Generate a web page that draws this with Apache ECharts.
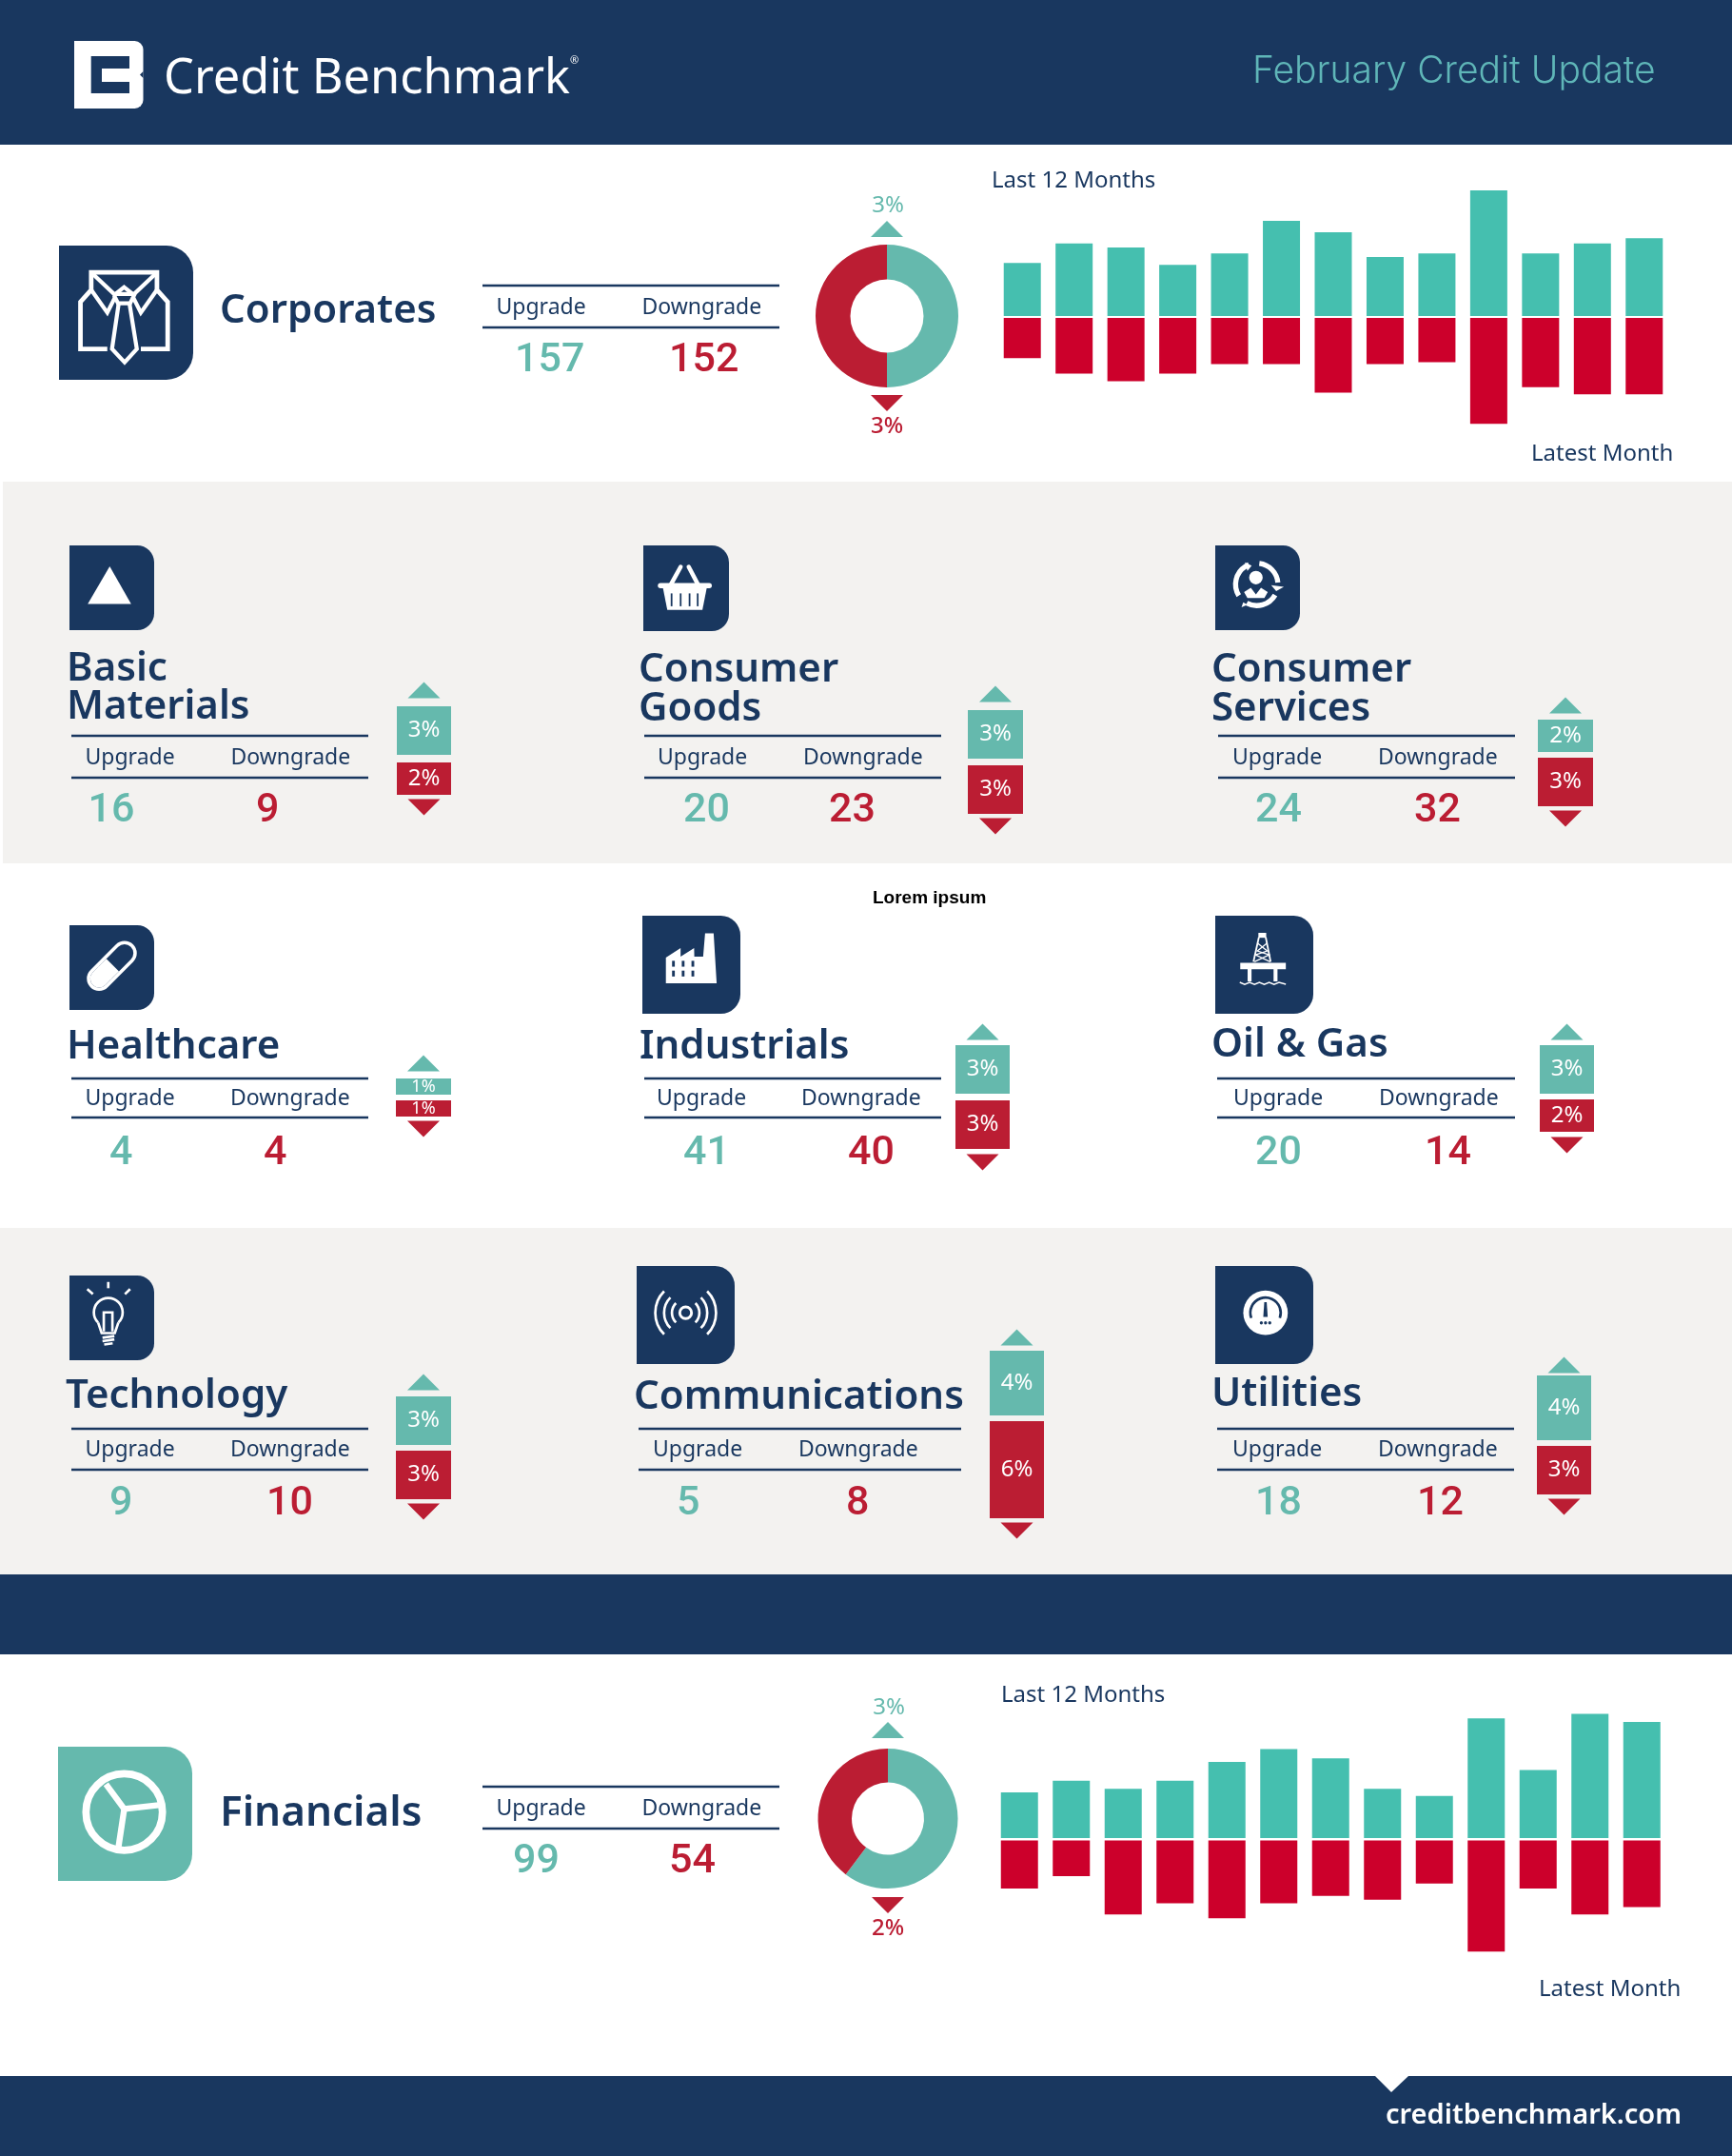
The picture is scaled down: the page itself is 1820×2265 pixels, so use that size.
<!DOCTYPE html>
<html>
<head>
<meta charset="utf-8">
<title>Credit Benchmark - February Credit Update</title>
<style>
html,body{margin:0;padding:0;background:#fff;}
#main{width:1820px;height:2265px;}
</style>
<script src="https://cdn.jsdelivr.net/npm/echarts@6/dist/echarts.min.js"></script>
</head>
<body>
<div id="main"></div>
<script>
// data
var months = ['M-12','M-11','M-10','M-9','M-8','M-7','M-6','M-5','M-4','M-3','M-2','M-1','Latest'];
var corporatesUp = [107,146,138,103,126,192,169,119,126,253,126,146,157];
var corporatesDown = [80,111,126,111,92,92,149,92,88,211,138,152,152];
var financialsUp = [39,49,42,49,65,76,68,42,36,102,58,106,99];
var financialsDown = [39,29,60,51,63,51,45,48,35,90,39,60,54];
var corporatesShare = [50,50];
var financialsShare = [60.3,39.7];
var corporatesPct = [3,3];
var financialsPct = [3,2];

var sectorNames = ['Basic\nMaterials','Consumer\nGoods','Consumer\nServices','Healthcare','Industrials','Oil & Gas','Technology','Communications','Utilities'];
var sectorUp = [16,20,24,4,41,20,9,5,18];
var sectorDown = [9,23,32,4,40,14,10,8,12];
var sectorUpPct = [3,3,2,1,3,3,3,4,4];
var sectorDownPct = [2,3,3,1,3,2,3,6,3];
var sectorIcons = ['triangle','basket','services','pill','factory','rig','bulb','radio','gauge'];

// where each sector panel sits
var panelLayout = [
    {icon:[73,573,89],   title:[70,[715,755]],  rule:[75,387,773,817],    label:[89.5,242.5,803],val:[92.5,269,863],  bar:[417,57,793,801],    tri:[-17,13]},
    {icon:[676,573,90],  title:[671,[716,757]], rule:[677,989,773,817],   label:[691,844,803],   val:[718,871,863],   bar:[1017,58,797,804],   tri:[-17,13]},
    {icon:[1277,573,89], title:[1273,[716,757]],rule:[1280,1592,773,817], label:[1295,1448,803], val:[1319,1486,863], bar:[1616,58,790,796],   tri:[-15,13]},
    {icon:[73,972,89],   title:[70,[1112]],     rule:[75,387,1133,1174],  label:[89.5,242,1161], val:[115,277,1223],  bar:[416,58,1150,1156],  tri:[-16,13]},
    {icon:[675,962,103], title:[672,[1112]],    rule:[677,989,1133,1174], label:[690,842,1161],  val:[718,891,1223],  bar:[1004,57,1149,1156], tri:[-14,14]},
    {icon:[1277,962,103],title:[1273,[1110]],   rule:[1279,1592,1133,1174],label:[1296,1449,1161],val:[1319,1497,1223],bar:[1618,57,1149,1155], tri:[-14,14]},
    {icon:[73,1340,89],  title:[69,[1479]],     rule:[75,387,1501,1544],  label:[89.5,242,1530], val:[115,280,1591],  bar:[416,58,1518,1524],  tri:[-15,13]},
    {icon:[669,1330,103],title:[666,[1480]],    rule:[671,1010,1501,1544],label:[686,839,1530],  val:[711,889,1591],  bar:[1040,57,1487,1493], tri:[-14,13]},
    {icon:[1277,1330,103],title:[1273,[1477]],  rule:[1279,1591,1501,1544],label:[1295,1448,1530],val:[1319,1489,1591],bar:[1615,57,1513,1519], tri:[-11,13]}
];

var NAVY = '#19375F', TEAL = '#65B9AD', RED = '#BB1D33', BAR_TEAL = '#45BFAF', BAR_RED = '#CC002B', GREY = '#F3F2F0';
var SANS = "'Noto Sans'", NUM = "Roboto", THIN = "Inter", ARIAL = "'Liberation Sans'";
var RISE = {};
RISE[SANS] = 0.29; RISE[NUM] = 0.24; RISE[THIN] = 0.30; RISE[ARIAL] = 0.24;

var graphics = [], grids = [], xAxes = [], yAxes = [], series = [];

function rect(x, y, w, h, fill, r) {
    return {type:'rect', shape:{x:x,y:y,width:w,height:h,r:r||0}, style:{fill:fill}};
}
function poly(pts, fill) {
    return {type:'polygon', shape:{points:pts}, style:{fill:fill}};
}
function pline(pts, color, lw, cap) {
    return {type:'polyline', shape:{points:pts}, style:{stroke:color,lineWidth:lw,fill:'none',lineCap:cap||'butt',lineJoin:'miter'}};
}
function circ(x, y, r, fill, stroke, lw) {
    return {type:'circle', shape:{cx:x,cy:y,r:r}, style:{fill:fill||'none',stroke:stroke||'none',lineWidth:lw||0}};
}
function arc(x, y, r, a0, a1, color, lw) {
    return {type:'arc', shape:{cx:x,cy:y,r:r,startAngle:a0*Math.PI/180,endAngle:a1*Math.PI/180,clockwise:true},
        style:{stroke:color,lineWidth:lw,fill:'none',lineCap:'butt'}};
}
// base is the text baseline in page pixels
function txt(x, base, s, size, family, weight, fill, align) {
    return {type:'text', style:{x:x, y:base-size*RISE[family], text:s, fill:fill,
        font:weight+' '+size+'px '+family, align:align||'left', verticalAlign:'middle'}};
}

// icon glyphs are drawn in a 100x100 box
function iconChildren(name, bg) {
    var w = '#fff';
    if (name === 'shirt') {
        return [
            pline([[36,77],[16,77],[16,42],[24,33],[24,20],[73,20],[73,33],[81,42],[81,77],[61,77]], w, 3.4),
            pline([[24,20],[41,36],[56,36],[73,20]], w, 3),
            pline([[24,33],[36,50],[42,38]], w, 3),
            pline([[73,33],[61,50],[55,38]], w, 3),
            pline([[41,37],[48.5,31],[56,37],[53,43],[44,43],[41,37]], w, 3),
            pline([[44.5,43],[39.5,77],[48.9,87],[58,77],[52.5,43]], w, 3)
        ];
    }
    if (name === 'triangle') {
        return [poly([[47.5,24.7],[21.6,69],[72.8,69]], w)];
    }
    if (name === 'basket') {
        return [
            pline([[43.6,25],[32,46]], w, 5, 'round'),
            pline([[53,25],[64,46]], w, 5, 'round'),
            pline([[20,47],[77,47]], w, 6, 'round'),
            poly([[23,50],[74,50],[69,75.4],[28,75.4]], w),
            pline([[33,56],[33,71]], bg, 2),
            pline([[43.6,56],[43.6,71]], bg, 2),
            pline([[54,56],[54,71]], bg, 2),
            pline([[63.5,56],[63.5,71]], bg, 2)
        ];
    }
    if (name === 'services') {
        return [
            arc(49,46,25,-83,-5,w,6),
            poly([[66,47],[81,49],[72,54]], w),
            arc(49,46,25,30,118,w,6),
            poly([[33,67],[31,73],[38,70]], w),
            arc(49,46,25,148,248,w,6),
            poly([[35,20],[43,24],[38,30]], w),
            circ(48,38,8,w),
            poly([[34,55],[42,50],[48,58],[54,50],[62,55],[58,62],[38,62]], w)
        ];
    }
    if (name === 'pill') {
        return [
            pline([[35,63],[65,33]], w, 29, 'round'),
            pline([[35,63],[65,33]], bg, 21, 'round'),
            pline([[35,63],[41,57]], w, 21, 'round'),
            pline([[41,57],[51,47]], w, 21, 'butt')
        ];
    }
    if (name === 'factory') {
        var wins = [poly([[24,69],[24,42.7],[39,33],[39,41.7],[52.8,33],[53,41.7],[62,41.7],[64,18],[72.7,18],[75.8,69]], w)];
        [31.7,41.6,51.5].forEach(function (x) {
            [46,56].forEach(function (y) { wins.push(rect(x-1.4,y,2.8,6,bg)); });
        });
        return wins;
    }
    if (name === 'rig') {
        return [
            rect(44,17.5,8,5,w),
            pline([[44.5,22],[39,47]], w, 1.8),
            pline([[51.5,22],[56.5,47]], w, 1.8),
            pline([[43,28],[53,36],[41,40],[56,47]], w, 1.3),
            pline([[53,28],[43,36],[55,40],[40,47]], w, 1.3),
            rect(25.5,48,46.5,6.5,w),
            rect(33,54,4,13,w),
            rect(59.5,54,4,13,w),
            pline([[25,68],[30,70],[35,68],[40,70],[45,68],[50,70],[55,68],[60,70],[65,68],[72,70]], w, 1.5)
        ];
    }
    if (name === 'bulb') {
        return [
            arc(45.8,43.5,17,135,405,w,3),
            pline([[33.8,55.5],[38,68],[53.5,68],[57.8,55.5]], w, 3),
            pline([[40.5,66],[40.5,43.5],[50.7,43.5],[50.7,66]], w, 3),
            pline([[39,73.5],[53,71.5]], w, 3),
            pline([[39,77.5],[53,75.5]], w, 3),
            pline([[41,81.5],[51,80]], w, 3),
            pline([[45.8,7.6],[45.8,15]], w, 3),
            pline([[21,16],[27.7,22]], w, 3),
            pline([[71.6,16],[65.5,22]], w, 3)
        ];
    }
    if (name === 'radio') {
        return [
            circ(50,47.7,6,'none',w,2.8),
            arc(50,47.7,14,-45,45,w,2.6), arc(50,47.7,14,135,225,w,2.6),
            arc(50,47.7,22,-45,45,w,2.6), arc(50,47.7,22,135,225,w,2.6),
            arc(50,47.7,31,-45,45,w,2.6), arc(50,47.7,31,135,225,w,2.6)
        ];
    }
    if (name === 'gauge') {
        return [
            circ(51.3,47.7,22.7,w),
            arc(51.3,47.7,15.5,160,380,bg,2.6),
            poly([[49,52],[53.5,52],[52.5,37],[50,37]], bg),
            circ(47,58,1.6,bg), circ(51.3,58,1.6,bg), circ(55.6,58,1.6,bg)
        ];
    }
    // pie outline for Financials
    return [
        circ(49.3,48.7,28.5,'none',w,5.5),
        pline([[35.7,28],[49.3,46.4],[75,43.5]], w, 4.5),
        pline([[49.3,46.4],[45,75]], w, 4.5)
    ];
}

function addIcon(name, x, y, size, bg) {
    var s = size/100;
    graphics.push({type:'group', x:x, y:y, scaleX:s, scaleY:s, children:
        [rect(0,0,100,100,bg,[0,20,20,0])].concat(iconChildren(name,bg))});
}

// one half of a diverging bar block, scaled by its own hidden value axis
function addHalf(left, width, top, height, max, cats, values, color, isDown, extra) {
    var idx = grids.length;
    grids.push({left:left, top:top, width:width, height:height, containLabel:false});
    xAxes.push({gridIndex:idx, type:'category', data:cats, show:false});
    yAxes.push({gridIndex:idx, type:'value', min:0, max:max, inverse:isDown, show:false});
    var s = {type:'bar', xAxisIndex:idx, yAxisIndex:idx, data:values, itemStyle:{color:color}, silent:true};
    for (var k in extra) { s[k] = extra[k]; }
    series.push(s);
}

function addCountTable(rule, label, val, up, down) {
    graphics.push(pline([[rule[0],rule[2]],[rule[1],rule[2]]], NAVY, 2.5));
    graphics.push(pline([[rule[0],rule[3]],[rule[1],rule[3]]], NAVY, 2.5));
    graphics.push(txt(label[0], label[2], 'Upgrade', 23, SANS, 400, NAVY));
    graphics.push(txt(label[1], label[2], 'Downgrade', 23, SANS, 400, NAVY));
    graphics.push(txt(val[0], val[2], String(up), 43, NUM, 500, TEAL));
    graphics.push(txt(val[1], val[2], String(down), 43, NUM, 500, RED));
}

function addDonut(cx, cy, r0, r1, share, upTri, downTri, pct, pctBase) {
    series.push({type:'pie', center:[cx,cy], radius:[r0,r1], startAngle:90, silent:true,
        label:{show:false}, labelLine:{show:false},
        data:[{name:'Upgrade',value:share[0],itemStyle:{color:TEAL}},{name:'Downgrade',value:share[1],itemStyle:{color:RED}}]});
    graphics.push(poly([[cx,upTri],[cx-17,upTri+17],[cx+17,upTri+17]], TEAL));
    graphics.push(poly([[cx-17,downTri],[cx+17,downTri],[cx,downTri+17]], RED));
    graphics.push(txt(cx+1, pctBase[0], pct[0]+'%', 24, SANS, 400, TEAL, 'center'));
    graphics.push(txt(cx, pctBase[1], pct[1]+'%', 24, SANS, 500, RED, 'center'));
}

// background bands
graphics.push(rect(0,0,1820,152,NAVY));
graphics.push(rect(3,506,1817,401,GREY));
graphics.push(rect(0,1290,1820,364,GREY));
graphics.push(rect(0,1654,1820,84,NAVY));
graphics.push(rect(0,2181,1820,84,NAVY));
graphics.push(poly([[1445,2181],[1480,2181],[1462,2198]], '#fff'));

// header
graphics.push({type:'group', x:78, y:43, children:[
    rect(0,0,72.5,71,'#fff',[0,9,9,0]),
    poly([[17.7,16],[58,16],[58,29],[29,29],[29,43],[58,43],[58,55],[17.7,55]], NAVY),
    poly([[72.5,32],[69,35.5],[72.5,39]], NAVY)
]});
graphics.push(txt(172, 98, 'Credit Benchmark', 50.5, SANS, 400, '#fff'));
graphics.push(txt(599, 67, '®', 11, SANS, 400, '#fff'));
graphics.push(txt(1316, 87, 'February Credit Update', 39, THIN, 300, '#5FB6B8'));
graphics.push(txt(1456, 2231, 'creditbenchmark.com', 29, SANS, 600, '#fff'));
graphics.push(txt(917, 948, 'Lorem ipsum', 19, ARIAL, 700, '#000'));

// Corporates block
addIcon('shirt', 62, 258, 141, NAVY);
graphics.push(txt(231, 339, 'Corporates', 42, SANS, 600, NAVY));
addCountTable([507,819,300,344], [521.5,674.5,330], [541,703,390], corporatesUp[12], corporatesDown[12]);
addDonut(932, 332, 38.5, 75, corporatesShare, 232, 415, corporatesPct, [223,455]);
addHalf(1047, 708, 186, 146, 280, months, corporatesUp, BAR_TEAL, false, {barWidth:39});
addHalf(1047, 708, 334, 116, 220, months, corporatesDown, BAR_RED, true, {barWidth:39});
graphics.push(txt(1042, 197, 'Last 12 Months', 24, SANS, 400, NAVY));
graphics.push(txt(1609, 484, 'Latest Month', 24, SANS, 400, NAVY));

// Financials block
addIcon('pie', 61, 1835, 141, TEAL);
graphics.push(txt(231, 1918, 'Financials', 44, SANS, 600, NAVY));
addCountTable([507,819,1877,1921], [521.5,674.5,1907], [539,703,1967], financialsUp[12], financialsDown[12]);
addDonut(933, 1910.5, 38, 73.5, financialsShare, 1809, 1993, financialsPct, [1801,2033]);
addHalf(1044, 708.5, 1795.5, 135.5, 110, months, financialsUp, BAR_TEAL, false, {barWidth:39});
addHalf(1044, 708.5, 1933.5, 129.6, 100, months, financialsDown, BAR_RED, true, {barWidth:39});
graphics.push(txt(1052, 1788, 'Last 12 Months', 24, SANS, 400, NAVY));
graphics.push(txt(1617, 2097, 'Latest Month', 24, SANS, 400, NAVY));

// sector panels
var MINI_H = 119, MINI_MAX = 7; // 17px per percentage point
sectorNames.forEach(function (name, i) {
    var p = panelLayout[i];
    addIcon(sectorIcons[i], p.icon[0], p.icon[1], p.icon[2], NAVY);
    name.split('\n').forEach(function (line, j) {
        graphics.push(txt(p.title[0], p.title[1][j], line, 42, SANS, 600, NAVY));
    });
    addCountTable(p.rule, p.label, p.val, sectorUp[i], sectorDown[i]);

    var labelSize = sectorUpPct[i] === 1 ? 18 : 24;
    function barOpts(offset, rotate, color, value) {
        return {
            barCategoryGap:0,
            label:{show:true, position:'inside', formatter:'{c}%', color:'#fff', fontFamily:'Noto Sans', fontSize:labelSize},
            markPoint:{silent:true, symbol:'triangle', symbolSize:[34,17], symbolOffset:[0,offset], symbolRotate:rotate,
                itemStyle:{color:color}, label:{show:false}, data:[{coord:[0,value]}]}
        };
    }
    addHalf(p.bar[0], p.bar[1], p.bar[2]-MINI_H, MINI_H, MINI_MAX, [name], [sectorUpPct[i]], TEAL, false,
        barOpts(p.tri[0], 0, TEAL, sectorUpPct[i]));
    addHalf(p.bar[0], p.bar[1], p.bar[3], MINI_H, MINI_MAX, [name], [sectorDownPct[i]], RED, true,
        barOpts(p.tri[1], 180, RED, sectorDownPct[i]));
});

var chart = echarts.init(document.getElementById('main'), null, {renderer:'canvas'});
chart.setOption({
    animation:false,
    backgroundColor:'#fff',
    tooltip:{show:false},
    graphic:{elements:graphics},
    grid:grids,
    xAxis:xAxes,
    yAxis:yAxes,
    series:series
});
</script>
</body>
</html>
